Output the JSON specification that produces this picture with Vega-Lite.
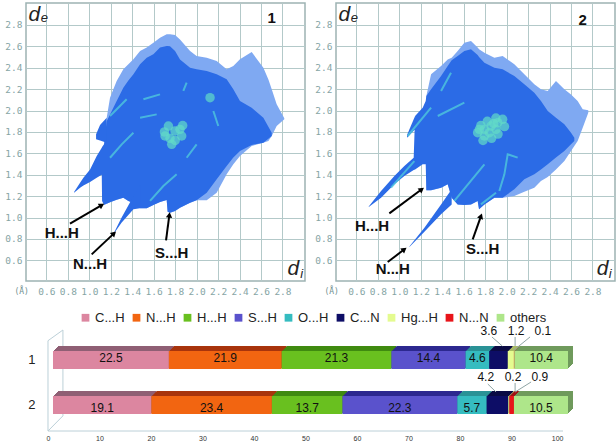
{"$schema":"https://vega.github.io/schema/vega-lite/v6.json","padding":{"left":4,"top":2,"right":0,"bottom":0},"background":"white","spacing":14,"config":{"font":"Liberation Sans","view":{"stroke":"#9db3b3","strokeWidth":1.5}},"datasets":{"fp":[
{"p":"1","k":"outer","di":1.162,"de":1.13,"de2":1.933},{"p":"1","k":"outer","di":1.193,"de":1.142,"de2":2.12},{"p":"1","k":"outer","di":1.224,"de":1.155,"de2":2.198},{"p":"1","k":"outer","di":1.255,"de":1.167,"de2":2.276},{"p":"1","k":"outer","di":1.317,"de":1.186,"de2":2.385},{"p":"1","k":"outer","di":1.364,"de":1.155,"de2":2.432},{"p":"1","k":"outer","di":1.411,"de":1.136,"de2":2.479},{"p":"1","k":"outer","di":1.473,"de":1.086,"de2":2.556},{"p":"1","k":"outer","di":1.535,"de":1.086,"de2":2.588},{"p":"1","k":"outer","di":1.597,"de":1.117,"de2":2.634},{"p":"1","k":"outer","di":1.659,"de":1.145,"de2":2.681},{"p":"1","k":"outer","di":1.721,"de":1.164,"de2":2.712},{"p":"1","k":"outer","di":1.73,"de":1.055,"de2":2.712},{"p":"1","k":"outer","di":1.752,"de":1.045,"de2":2.712},{"p":"1","k":"outer","di":1.799,"de":1.061,"de2":2.706},{"p":"1","k":"outer","di":1.845,"de":1.092,"de2":2.665},{"p":"1","k":"outer","di":1.939,"de":1.139,"de2":2.556},{"p":"1","k":"outer","di":2.0,"de":1.161,"de2":2.51},{"p":"1","k":"outer","di":2.094,"de":1.161,"de2":2.494},{"p":"1","k":"outer","di":2.187,"de":1.232,"de2":2.463},{"p":"1","k":"outer","di":2.28,"de":1.404,"de2":2.385},{"p":"1","k":"outer","di":2.342,"de":1.497,"de2":2.416},{"p":"1","k":"outer","di":2.404,"de":1.575,"de2":2.479},{"p":"1","k":"outer","di":2.513,"de":1.669,"de2":2.547},{"p":"1","k":"outer","di":2.622,"de":1.7,"de2":2.4},{"p":"1","k":"outer","di":2.669,"de":1.715,"de2":2.291},{"p":"1","k":"outer","di":2.7,"de":1.762,"de2":2.198},{"p":"1","k":"outer","di":2.746,"de":1.855,"de2":2.058},{"p":"1","k":"outer","di":2.817,"de":1.918,"de2":1.927},
{"p":"1","k":"core","g":"body","di":0.858,"de":1.232,"de2":1.239},{"p":"1","k":"core","g":"body","di":0.914,"de":1.279,"de2":1.326},{"p":"1","k":"core","g":"body","di":0.945,"de":1.3,"de2":1.373},{"p":"1","k":"core","g":"body","di":1.007,"de":1.332,"de2":1.45},{"p":"1","k":"core","g":"body","di":1.069,"de":1.373,"de2":1.575},{"p":"1","k":"core","g":"body","di":1.116,"de":1.4,"de2":1.653},{"p":"1","k":"core","g":"body","di":1.119,"de":1.155,"de2":1.66},{"p":"1","k":"core","g":"body","di":1.137,"de":1.117,"de2":1.684},{"p":"1","k":"core","g":"body","di":1.162,"de":1.13,"de2":1.9},{"p":"1","k":"core","g":"body","di":1.193,"de":1.142,"de2":1.964},{"p":"1","k":"core","g":"body","di":1.255,"de":1.167,"de2":2.089},{"p":"1","k":"core","g":"body","di":1.317,"de":1.186,"de2":2.214},{"p":"1","k":"core","g":"body","di":1.364,"de":1.155,"de2":2.28},{"p":"1","k":"core","g":"body","di":1.411,"de":1.136,"de2":2.338},{"p":"1","k":"core","g":"body","di":1.473,"de":1.086,"de2":2.432},{"p":"1","k":"core","g":"body","di":1.535,"de":1.086,"de2":2.494},{"p":"1","k":"core","g":"body","di":1.597,"de":1.117,"de2":2.525},{"p":"1","k":"core","g":"body","di":1.659,"de":1.145,"de2":2.588},{"p":"1","k":"core","g":"body","di":1.721,"de":1.164,"de2":2.603},{"p":"1","k":"core","g":"body","di":1.73,"de":1.055,"de2":2.603},{"p":"1","k":"core","g":"body","di":1.752,"de":1.045,"de2":2.6},{"p":"1","k":"core","g":"body","di":1.799,"de":1.061,"de2":2.556},{"p":"1","k":"core","g":"body","di":1.845,"de":1.092,"de2":2.478},{"p":"1","k":"core","g":"body","di":1.939,"de":1.139,"de2":2.4},{"p":"1","k":"core","g":"body","di":2.0,"de":1.161,"de2":2.385},{"p":"1","k":"core","g":"body","di":2.094,"de":1.232,"de2":2.369},{"p":"1","k":"core","g":"body","di":2.187,"de":1.357,"de2":2.338},{"p":"1","k":"core","g":"body","di":2.28,"de":1.482,"de2":2.292},{"p":"1","k":"core","g":"body","di":2.342,"de":1.56,"de2":2.198},{"p":"1","k":"core","g":"body","di":2.404,"de":1.622,"de2":2.089},{"p":"1","k":"core","g":"body","di":2.513,"de":1.678,"de2":2.027},{"p":"1","k":"core","g":"body","di":2.622,"de":1.7,"de2":1.933},{"p":"1","k":"core","g":"body","di":2.7,"de":1.762,"de2":1.793},
{"p":"1","k":"core","g":"spike","di":1.23,"de":0.852,"de2":0.859},{"p":"1","k":"core","g":"spike","di":1.3,"de":0.952,"de2":0.999},{"p":"1","k":"core","g":"spike","di":1.411,"de":1.077,"de2":1.2},{"p":"1","k":"core","g":"spike","di":1.473,"de":1.086,"de2":1.3},
{"p":"1","k":"core","g":"lobe","di":1.063,"de":1.731,"de2":1.778},{"p":"1","k":"core","g":"lobe","di":1.1,"de":1.72,"de2":1.865},{"p":"1","k":"core","g":"lobe","di":1.162,"de":1.7,"de2":1.933},
{"p":"1","k":"streak","g":"s1","di":1.193,"de":1.559},{"p":"1","k":"streak","g":"s1","di":1.302,"de":1.684},{"p":"1","k":"streak","g":"s1","di":1.411,"de":1.793},{"p":"1","k":"streak","g":"s2","di":1.193,"de":1.949},{"p":"1","k":"streak","g":"s2","di":1.348,"de":2.105},{"p":"1","k":"streak","g":"s3","di":1.473,"de":1.933},{"p":"1","k":"streak","g":"s3","di":1.628,"de":1.964},{"p":"1","k":"streak","g":"s4","di":1.504,"de":2.105},{"p":"1","k":"streak","g":"s4","di":1.659,"de":2.151},{"p":"1","k":"streak","g":"s5","di":1.907,"de":1.559},{"p":"1","k":"streak","g":"s5","di":2.0,"de":1.684},{"p":"1","k":"streak","g":"s6","di":1.566,"de":1.155},{"p":"1","k":"streak","g":"s6","di":1.69,"de":1.295},{"p":"1","k":"streak","g":"s6","di":1.814,"de":1.404},{"p":"1","k":"streak","g":"s7","di":2.156,"de":1.996},{"p":"1","k":"streak","g":"s7","di":2.202,"de":1.855},{"p":"1","k":"streak","g":"s8","di":1.876,"de":2.183},{"p":"1","k":"streak","g":"s8","di":1.907,"de":2.26},
{"p":"1","k":"blob","di":1.706,"de":1.762},{"p":"1","k":"blob","di":1.752,"de":1.74},{"p":"1","k":"blob","di":1.799,"de":1.809},{"p":"1","k":"blob","di":1.845,"de":1.824},{"p":"1","k":"blob","di":1.768,"de":1.684},{"p":"1","k":"blob","di":1.737,"de":1.855},{"p":"1","k":"blob","di":1.861,"de":1.762},{"p":"1","k":"blob","di":1.7,"de":1.8},{"p":"1","k":"blob","di":1.8,"de":1.72},{"p":"1","k":"blob","di":1.87,"de":1.86},{"p":"1","k":"blob","di":2.125,"de":2.12},
{"p":"1","k":"arrow","di":0.82,"de":0.943,"di2":1.116,"de2":1.117,"bearing":59.5},{"p":"1","k":"arrow","di":1.022,"de":0.656,"di2":1.23,"de2":0.852,"bearing":46.8},{"p":"1","k":"arrow","di":1.715,"de":0.787,"di2":1.746,"de2":1.024,"bearing":7.5},
{"p":"1","k":"contact","di":0.743,"de":0.852,"t":"H...H"},{"p":"1","k":"contact","di":1.007,"de":0.563,"t":"N...H"},{"p":"1","k":"contact","di":1.768,"de":0.665,"t":"S...H"},
{"p":"1","k":"id","di":2.7,"de":2.868,"t":"1"},
{"p":"1","k":"sym","di":0.488,"de":2.893,"t":"d"},{"p":"1","k":"sub","di":0.581,"de":2.868,"t":"e"},{"p":"1","k":"sym","di":2.901,"de":0.516,"t":"d"},{"p":"1","k":"sub","di":2.979,"de":0.469,"t":"i"},
{"p":"1","k":"unit","di":0.37,"de":0.307,"t":"(Å)"},

{"p":"2","k":"outer","di":1.252,"de":1.254,"de2":2.136},{"p":"2","k":"outer","di":1.296,"de":1.254,"de2":2.338},{"p":"2","k":"outer","di":1.389,"de":1.279,"de2":2.416},{"p":"2","k":"outer","di":1.451,"de":1.31,"de2":2.478},{"p":"2","k":"outer","di":1.488,"de":1.186,"de2":2.494},{"p":"2","k":"outer","di":1.544,"de":1.123,"de2":2.556},{"p":"2","k":"outer","di":1.606,"de":1.117,"de2":2.634},{"p":"2","k":"outer","di":1.668,"de":1.123,"de2":2.65},{"p":"2","k":"outer","di":1.73,"de":1.155,"de2":2.588},{"p":"2","k":"outer","di":1.743,"de":1.077,"de2":2.572},{"p":"2","k":"outer","di":1.793,"de":1.123,"de2":2.541},{"p":"2","k":"outer","di":1.886,"de":1.186,"de2":2.494},{"p":"2","k":"outer","di":1.963,"de":1.186,"de2":2.51},{"p":"2","k":"outer","di":2.072,"de":1.201,"de2":2.432},{"p":"2","k":"outer","di":2.165,"de":1.242,"de2":2.338},{"p":"2","k":"outer","di":2.258,"de":1.279,"de2":2.245},{"p":"2","k":"outer","di":2.32,"de":1.341,"de2":2.198},{"p":"2","k":"outer","di":2.383,"de":1.379,"de2":2.183},{"p":"2","k":"outer","di":2.46,"de":1.45,"de2":2.276},{"p":"2","k":"outer","di":2.538,"de":1.528,"de2":2.198},{"p":"2","k":"outer","di":2.6,"de":1.622,"de2":2.151},{"p":"2","k":"outer","di":2.662,"de":1.715,"de2":2.089},{"p":"2","k":"outer","di":2.709,"de":1.84,"de2":2.011},{"p":"2","k":"outer","di":2.761,"de":1.98,"de2":2.002},
{"p":"2","k":"core","g":"body","di":0.715,"de":1.098,"de2":1.104},{"p":"2","k":"core","g":"body","di":0.83,"de":1.186,"de2":1.248},{"p":"2","k":"core","g":"body","di":0.954,"de":1.31,"de2":1.388},{"p":"2","k":"core","g":"body","di":1.047,"de":1.388,"de2":1.482},{"p":"2","k":"core","g":"body","di":1.134,"de":1.444,"de2":1.559},{"p":"2","k":"core","g":"body","di":1.147,"de":1.45,"de2":1.949},{"p":"2","k":"core","g":"body","di":1.218,"de":1.497,"de2":2.027},{"p":"2","k":"core","g":"body","di":1.246,"de":1.497,"de2":2.089},{"p":"2","k":"core","g":"body","di":1.252,"de":1.254,"de2":2.136},{"p":"2","k":"core","g":"body","di":1.296,"de":1.254,"de2":2.198},{"p":"2","k":"core","g":"body","di":1.389,"de":1.279,"de2":2.323},{"p":"2","k":"core","g":"body","di":1.451,"de":1.31,"de2":2.416},{"p":"2","k":"core","g":"body","di":1.488,"de":1.186,"de2":2.47},{"p":"2","k":"core","g":"body","di":1.544,"de":1.123,"de2":2.51},{"p":"2","k":"core","g":"body","di":1.606,"de":1.117,"de2":2.556},{"p":"2","k":"core","g":"body","di":1.668,"de":1.123,"de2":2.572},{"p":"2","k":"core","g":"body","di":1.73,"de":1.155,"de2":2.52},{"p":"2","k":"core","g":"body","di":1.743,"de":1.077,"de2":2.5},{"p":"2","k":"core","g":"body","di":1.793,"de":1.123,"de2":2.447},{"p":"2","k":"core","g":"body","di":1.886,"de":1.186,"de2":2.4},{"p":"2","k":"core","g":"body","di":1.963,"de":1.186,"de2":2.385},{"p":"2","k":"core","g":"body","di":2.072,"de":1.264,"de2":2.323},{"p":"2","k":"core","g":"body","di":2.165,"de":1.357,"de2":2.245},{"p":"2","k":"core","g":"body","di":2.258,"de":1.404,"de2":2.167},{"p":"2","k":"core","g":"body","di":2.32,"de":1.45,"de2":2.089},{"p":"2","k":"core","g":"body","di":2.383,"de":1.497,"de2":1.996},{"p":"2","k":"core","g":"body","di":2.46,"de":1.56,"de2":1.933},{"p":"2","k":"core","g":"body","di":2.538,"de":1.622,"de2":1.871},{"p":"2","k":"core","g":"body","di":2.6,"de":1.684,"de2":1.793},{"p":"2","k":"core","g":"body","di":2.631,"de":1.715,"de2":1.746},
{"p":"2","k":"core","g":"spike","di":1.094,"de":0.725,"de2":0.73},{"p":"2","k":"core","g":"spike","di":1.234,"de":0.868,"de2":0.905},{"p":"2","k":"core","g":"spike","di":1.389,"de":1.03,"de2":1.123},{"p":"2","k":"core","g":"spike","di":1.488,"de":1.123,"de2":1.264},
{"p":"2","k":"core","g":"lobe","di":1.072,"de":1.746,"de2":1.771},{"p":"2","k":"core","g":"lobe","di":1.147,"de":1.824,"de2":1.949},
{"p":"2","k":"streak","g":"s1","di":1.078,"de":1.762},{"p":"2","k":"streak","g":"s1","di":1.296,"de":2.027},{"p":"2","k":"streak","g":"s2","di":1.389,"de":2.183},{"p":"2","k":"streak","g":"s2","di":1.482,"de":2.354},{"p":"2","k":"streak","g":"s3","di":1.358,"de":1.949},{"p":"2","k":"streak","g":"s3","di":1.606,"de":2.073},{"p":"2","k":"streak","g":"s4","di":1.932,"de":1.248},{"p":"2","k":"streak","g":"s4","di":1.979,"de":1.404},{"p":"2","k":"streak","g":"s4","di":2.01,"de":1.591},{"p":"2","k":"streak","g":"s4","di":2.103,"de":1.56},{"p":"2","k":"streak","g":"s5","di":1.513,"de":1.155},{"p":"2","k":"streak","g":"s5","di":1.793,"de":1.497},{"p":"2","k":"streak","g":"s6","di":1.761,"de":1.123},{"p":"2","k":"streak","g":"s6","di":1.901,"de":1.232},{"p":"2","k":"streak","g":"s7","di":0.923,"de":1.279},{"p":"2","k":"streak","g":"s7","di":1.14,"de":1.528},
{"p":"2","k":"blob","di":1.73,"de":1.793},{"p":"2","k":"blob","di":1.793,"de":1.824},{"p":"2","k":"blob","di":1.855,"de":1.855},{"p":"2","k":"blob","di":1.917,"de":1.887},{"p":"2","k":"blob","di":1.793,"de":1.762},{"p":"2","k":"blob","di":1.839,"de":1.793},{"p":"2","k":"blob","di":1.901,"de":1.824},{"p":"2","k":"blob","di":1.963,"de":1.918},{"p":"2","k":"blob","di":1.746,"de":1.824},{"p":"2","k":"blob","di":1.78,"de":1.72},{"p":"2","k":"blob","di":1.86,"de":1.74},{"p":"2","k":"blob","di":1.92,"de":1.78},{"p":"2","k":"blob","di":1.98,"de":1.85},{"p":"2","k":"blob","di":1.9,"de":1.93},{"p":"2","k":"blob","di":1.82,"de":1.9},{"p":"2","k":"blob","di":1.76,"de":1.86},{"p":"2","k":"blob","di":1.88,"de":1.88},
{"p":"2","k":"arrow","di":0.907,"de":1.039,"di2":1.209,"de2":1.264,"bearing":53.4},{"p":"2","k":"arrow","di":0.892,"de":0.584,"di2":1.047,"de2":0.703,"bearing":52.8},{"p":"2","k":"arrow","di":1.684,"de":0.796,"di2":1.761,"de2":1.014,"bearing":19.7},
{"p":"2","k":"contact","di":0.746,"de":0.921,"t":"H...H"},{"p":"2","k":"contact","di":0.939,"de":0.522,"t":"N...H"},{"p":"2","k":"contact","di":1.777,"de":0.703,"t":"S...H"},
{"p":"2","k":"id","di":2.709,"de":2.843,"t":"2"},
{"p":"2","k":"sym","di":0.488,"de":2.893,"t":"d"},{"p":"2","k":"sub","di":0.581,"de":2.868,"t":"e"},{"p":"2","k":"sym","di":2.895,"de":0.516,"t":"d"},{"p":"2","k":"sub","di":2.966,"de":0.469,"t":"i"},
{"p":"2","k":"unit","di":0.37,"de":0.307,"t":"(Å)"}
],"bars":[
{"c":"1","s":"C...H","i":0,"v":22.5},{"c":"1","s":"N...H","i":1,"v":21.9},{"c":"1","s":"H...H","i":2,"v":21.3},{"c":"1","s":"S...H","i":3,"v":14.4},{"c":"1","s":"O...H","i":4,"v":4.6},{"c":"1","s":"C...N","i":5,"v":3.6},{"c":"1","s":"Hg...H","i":6,"v":1.2},{"c":"1","s":"N...N","i":7,"v":0.1},{"c":"1","s":"others","i":8,"v":10.4},
{"c":"2","s":"C...H","i":0,"v":19.1},{"c":"2","s":"N...H","i":1,"v":23.4},{"c":"2","s":"H...H","i":2,"v":13.7},{"c":"2","s":"S...H","i":3,"v":22.3},{"c":"2","s":"O...H","i":4,"v":5.7},{"c":"2","s":"C...N","i":5,"v":4.2},{"c":"2","s":"Hg...H","i":6,"v":0.2},{"c":"2","s":"N...N","i":7,"v":0.9},{"c":"2","s":"others","i":8,"v":10.5}
],"wall":[{"n":0,"wx":0,"wy":0},{"n":1,"wx":0,"wy":89.4},{"n":2,"wx":2.9,"wy":100},{"n":3,"wx":2.9,"wy":15},{"n":4,"wx":0,"wy":0},{"n":5,"wx":100,"wy":0}],
"call":[{"t":"3.6","lx":85.6,"ly":99.3,"x1":86.2,"y1":93.1,"x2":88.2,"y2":84.2},{"t":"1.2","lx":90.9,"ly":99.3,"x1":90.7,"y1":93.1,"x2":90.7,"y2":84.2},{"t":"0.1","lx":96.1,"ly":99.3,"x1":93.6,"y1":93.1,"x2":90.5,"y2":80.2},{"t":"4.2","lx":85,"ly":53.5,"x1":85.4,"y1":46.5,"x2":87,"y2":38.6},{"t":"0.2","lx":90.3,"ly":53.5,"x1":90.7,"y1":47.5,"x2":90.7,"y2":39.6},{"t":"0.9","lx":95.5,"ly":53.5,"x1":93.8,"y1":48.5,"x2":90.7,"y2":38.6}]},
"vconcat":[
{"data":{"name":"fp"},"facet":{"column":{"field":"p","type":"nominal","header":null}},"spacing":{"column":8},"resolve":{"axis":{"y":"independent","x":"independent"},"scale":{"x":"shared","y":"shared"}},"spec":{"width":279,"height":278,
"encoding":{"x":{"field":"di","type":"quantitative","scale":{"domain":[0.41,3.01],"nice":false,"zero":false},"axis":{"title":null,"values":[0.6,0.8,1.0,1.2,1.4,1.6,1.8,2.0,2.2,2.4,2.6,2.8],"format":".1f","ticks":false,"domain":false,"grid":true,"gridColor":"#b3c9c9","gridWidth":1,"labelFont":"DejaVu Sans Mono","labelFontSize":9.5,"labelColor":"#86a5a5","labelPadding":5}},"y":{"field":"de","type":"quantitative","scale":{"domain":[0.407,3.005],"nice":false,"zero":false},"axis":{"title":null,"values":[0.6,0.8,1.0,1.2,1.4,1.6,1.8,2.0,2.2,2.4,2.6,2.8],"format":".1f","ticks":false,"domain":false,"grid":true,"gridColor":"#b3c9c9","gridWidth":1,"labelFont":"DejaVu Sans Mono","labelFontSize":9.5,"labelColor":"#86a5a5","labelPadding":4}}},
"layer":[
{"transform":[{"filter":"datum.k=='outer'"}],"mark":{"type":"area","orient":"vertical","color":"#7fa9f2"},"encoding":{"y2":{"field":"de2"}}},
{"transform":[{"filter":"datum.k=='core'"}],"mark":{"type":"area","orient":"vertical","color":"#2b6be6"},"encoding":{"y2":{"field":"de2"},"detail":{"field":"g"}}},
{"transform":[{"filter":"datum.k=='streak'"}],"mark":{"type":"line","color":"#4fc8dc","strokeWidth":2,"opacity":0.8},"encoding":{"detail":{"field":"g"}}},
{"transform":[{"filter":"datum.k=='blob'"}],"mark":{"type":"circle","color":"#62dcc8","size":90,"opacity":0.7}},
{"transform":[{"filter":"datum.k=='arrow'"}],"mark":{"type":"rule","color":"black","strokeWidth":2},"encoding":{"x2":{"field":"di2"},"y2":{"field":"de2"}}},
{"transform":[{"filter":"datum.k=='arrow'"}],"mark":{"type":"point","shape":"triangle-up","filled":true,"color":"black","size":40,"opacity":1},"encoding":{"x":{"field":"di2","type":"quantitative"},"y":{"field":"de2","type":"quantitative"},"angle":{"field":"bearing","type":"quantitative","scale":null}}},
{"transform":[{"filter":"datum.k=='contact'"}],"mark":{"type":"text","fontSize":15,"fontWeight":"bold","color":"#111111"},"encoding":{"text":{"field":"t"}}},
{"transform":[{"filter":"datum.k=='id'"}],"mark":{"type":"text","fontSize":15,"fontWeight":"bold","color":"#111111"},"encoding":{"text":{"field":"t"}}},
{"transform":[{"filter":"datum.k=='sym'"}],"mark":{"type":"text","fontSize":21,"fontStyle":"italic","color":"#222222"},"encoding":{"text":{"field":"t"}}},
{"transform":[{"filter":"datum.k=='sub'"}],"mark":{"type":"text","fontSize":13,"fontStyle":"italic","color":"#222222"},"encoding":{"text":{"field":"t"}}},
{"transform":[{"filter":"datum.k=='unit'"}],"mark":{"type":"text","fontSize":8,"font":"DejaVu Sans Mono","color":"#6f8f8f"},"encoding":{"text":{"field":"t"}}}
]}},
{"width":537,"height":101,"view":{"stroke":null},"resolve":{"scale":{"y":"independent","color":"independent"},"axis":{"y":"independent"}},
"layer":[
{"data":{"name":"wall"},"mark":{"type":"line","color":"#bcd0d8","strokeWidth":1},"encoding":{"x":{"field":"wx","type":"quantitative","scale":{"domain":[-4.27,100],"nice":false,"zero":false},"axis":{"title":null,"values":[0,10,20,30,40,50,60,70,80,90,100],"grid":false,"ticks":false,"domain":false,"labelFontSize":7,"labelColor":"#333333","labelPadding":3}},"y":{"field":"wy","type":"quantitative","scale":{"domain":[0,100],"nice":false},"axis":null},"order":{"field":"n"}}},
{"data":{"name":"bars"},"encoding":{"x":{"field":"v","type":"quantitative","stack":"zero"},"y":{"field":"c","type":"nominal","scale":{"domain":["1","2"],"paddingInner":0.6,"paddingOuter":0.422,"align":0.553},"axis":{"title":null,"ticks":false,"domain":false,"labelAngle":0,"labelFontSize":13,"labelColor":"#222222","labelPadding":-9}},"color":{"field":"s","type":"nominal","scale":{"domain":["C...H","N...H","H...H","S...H","O...H","C...N","Hg...H","N...N","others"],"range":["#8f5f74","#a8340c","#3f8a10","#2c288f","#2a9296","#0a0a44","#a9bb64","#a01014","#6f9a5c"]},"legend":null},"order":{"field":"i"}},
"layer":[{"mark":{"type":"bar","xOffset":10,"yOffset":-5}},{"mark":{"type":"bar","xOffset":9,"yOffset":-4}},{"mark":{"type":"bar","xOffset":8,"yOffset":-3}},{"mark":{"type":"bar","xOffset":7,"yOffset":-2}},{"mark":{"type":"bar","xOffset":6,"yOffset":-1}}]},
{"data":{"name":"bars"},"mark":{"type":"bar","xOffset":5},"encoding":{"x":{"field":"v","type":"quantitative","stack":"zero"},"y":{"field":"c","type":"nominal","scale":{"domain":["1","2"],"paddingInner":0.6,"paddingOuter":0.422,"align":0.553},"axis":null},"order":{"field":"i"},"color":{"field":"s","type":"nominal","scale":{"domain":["C...H","N...H","H...H","S...H","O...H","C...N","Hg...H","N...N","others"],"range":["#dc86a0","#f26511","#69c01f","#5a52cc","#35bcc0","#0d0d66","#e4fb90","#e8141a","#aee68a"]},"legend":{"title":null,"orient":"none","legendX":53,"legendY":-19,"direction":"horizontal","columns":9,"symbolType":"square","symbolSize":60,"symbolStrokeWidth":0,"labelFontSize":13,"labelColor":"#222222","columnPadding":5,"labelOffset":3}}}},
{"data":{"name":"bars"},"transform":[{"stack":"v","groupby":["c"],"sort":[{"field":"i"}],"as":["v0","v1"]},{"filter":"datum.v>=4.5"},{"calculate":"(datum.v0+datum.v1)/2","as":"m"}],"mark":{"type":"text","xOffset":5,"fontSize":12,"color":"#111111"},"encoding":{"x":{"field":"m","type":"quantitative"},"y":{"field":"c","type":"nominal","scale":{"domain":["1","2"],"paddingInner":0.6,"paddingOuter":0.422,"align":0.553},"axis":null},"text":{"field":"v","format":".1f"}}},
{"data":{"name":"call"},"mark":{"type":"rule","color":"#8fa5a5","strokeWidth":1},"encoding":{"x":{"field":"x1","type":"quantitative"},"x2":{"field":"x2"},"y":{"field":"y1","type":"quantitative","scale":{"domain":[0,100],"nice":false},"axis":null},"y2":{"field":"y2"}}},
{"data":{"name":"call"},"mark":{"type":"text","fontSize":12,"color":"#111111"},"encoding":{"x":{"field":"lx","type":"quantitative"},"y":{"field":"ly","type":"quantitative","scale":{"domain":[0,100],"nice":false},"axis":null},"text":{"field":"t"}}}
]}
]}
